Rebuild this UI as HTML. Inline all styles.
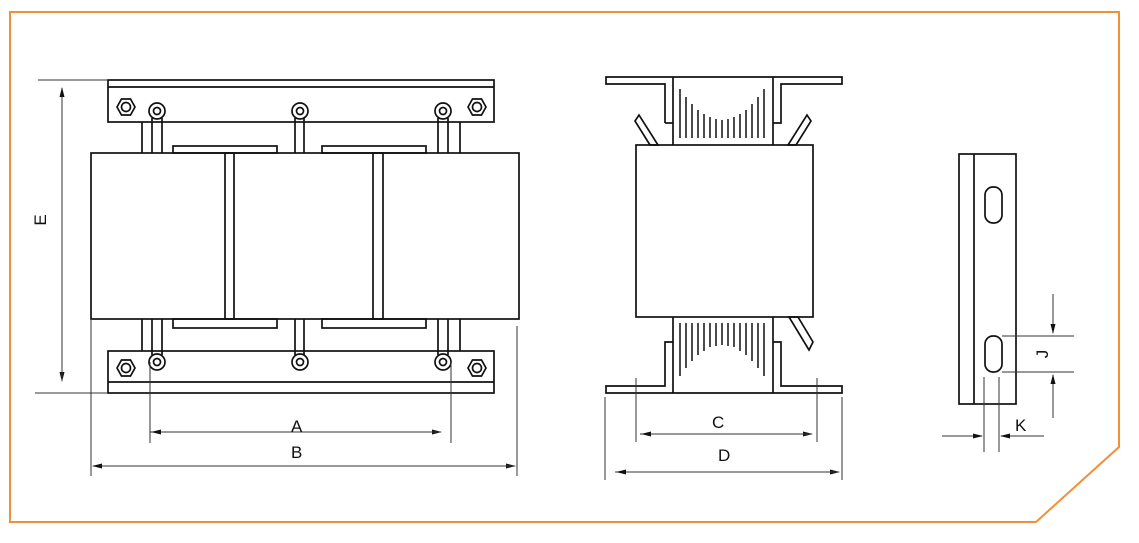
<!DOCTYPE html>
<html><head><meta charset="utf-8"><style>
html,body{margin:0;padding:0;background:#fff;}
svg{display:block;}
text{font-family:"Liberation Sans",sans-serif;font-size:17px;fill:#111;}
</style></head><body>
<svg width="1139" height="543" viewBox="0 0 1139 543" xmlns="http://www.w3.org/2000/svg">
<defs>
<marker id="ar" markerWidth="10" markerHeight="6" refX="9" refY="3" orient="auto" markerUnits="userSpaceOnUse"><path d="M0,0.5 L10,3 L0,5.5 z" fill="#111"/></marker>
</defs>
<polygon points="10,12 1119,12 1119,447 1036,522 10,522" fill="none" stroke="#f0913a" stroke-width="2"/>
<g fill="none" stroke="#111" stroke-width="1.7">
<rect x="108" y="80" width="386" height="42"/>
<line x1="108" y1="87" x2="494" y2="87"/>
<rect x="108" y="351" width="386" height="42"/>
<line x1="108" y1="382" x2="494" y2="382"/>
<rect x="91" y="153" width="428" height="166"/>
<rect x="225" y="153" width="9" height="166"/>
<rect x="373" y="153" width="10" height="166"/>
<rect x="173" y="146" width="104" height="7"/>
<rect x="322" y="146" width="104" height="7"/>
<rect x="173" y="319" width="104" height="9"/>
<rect x="322" y="319" width="104" height="9"/>
<path d="M142,122V153 M152,118V153 M162,118V153 M295,118V153 M304,118V153 M438,118V153 M448,118V153 M460,122V153"/>
<path d="M142,319V351 M152,319V355 M162,319V355 M295,319V355 M304,319V355 M438,319V355 M448,319V355 M460,319V351"/>
<circle cx="157" cy="111" r="8"/><circle cx="157" cy="111" r="3.5"/>
<circle cx="300" cy="111" r="8"/><circle cx="300" cy="111" r="3.5"/>
<circle cx="443" cy="111" r="8"/><circle cx="443" cy="111" r="3.5"/>
<circle cx="157" cy="362" r="8"/><circle cx="157" cy="362" r="3.5"/>
<circle cx="300" cy="362" r="8"/><circle cx="300" cy="362" r="3.5"/>
<circle cx="443" cy="362" r="8"/><circle cx="443" cy="362" r="3.5"/>
<polygon points="117,107 121.5,99 130.5,99 135,107 130.5,115 121.5,115"/><circle cx="126" cy="107" r="4.5"/>
<polygon points="468,107 472.5,99 481.5,99 486,107 481.5,115 472.5,115"/><circle cx="477" cy="107" r="4.5"/>
<polygon points="117,368 121.5,360 130.5,360 135,368 130.5,376 121.5,376"/><circle cx="126" cy="368" r="4.5"/>
<polygon points="468,368 472.5,360 481.5,360 486,368 481.5,376 472.5,376"/><circle cx="477" cy="368" r="4.5"/>
</g>
<g stroke="#333" stroke-width="1" fill="none">
<line x1="38" y1="80" x2="108" y2="80"/>
<line x1="35" y1="393" x2="108" y2="393"/>
<line x1="62" y1="88" x2="62" y2="381" marker-end="url(#ar)"/>
<line x1="62" y1="381" x2="62" y2="88" marker-end="url(#ar)"/>
<line x1="150" y1="362" x2="150" y2="443"/>
<line x1="451" y1="362" x2="451" y2="443"/>
<line x1="150" y1="432" x2="441" y2="432" marker-end="url(#ar)"/>
<line x1="441" y1="432" x2="152" y2="432" marker-end="url(#ar)"/>
<line x1="91" y1="319" x2="91" y2="476"/>
<line x1="517" y1="326" x2="517" y2="476"/>
<line x1="93" y1="466" x2="515" y2="466" marker-end="url(#ar)"/>
<line x1="515" y1="466" x2="93" y2="466" marker-end="url(#ar)"/>
</g>
<text x="291" y="432">A</text>
<text x="291" y="458">B</text>
<text x="0" y="0" transform="translate(46,220) rotate(-90)" text-anchor="middle">E</text>

<g fill="none" stroke="#111" stroke-width="1.7">
<polyline points="665,123 665,84 606,84 606,77 842,77 842,84 781,84 781,123 773,123"/>
<polyline points="673,123 665,123"/>
<line x1="673" y1="77" x2="673" y2="145"/>
<line x1="773" y1="77" x2="773" y2="145"/>
<rect x="636" y="145" width="177" height="172"/>
<line x1="673" y1="317" x2="673" y2="393"/>
<line x1="773" y1="317" x2="773" y2="393"/>
<polyline points="673,342 665,342 665,386 606,386 606,393 842,393 842,386 781,386 781,342 773,342"/>
<polygon points="650,145 635,121 639,115 658,145"/>
<polygon points="796,145 811,121 807,115 788,145"/>
<polygon points="789,317 798,317 813,342 809,350"/>
</g>
<g stroke="#111" stroke-width="1.5">
<path d="M680,89V138 M686,97V138 M692,104V138 M698,110V138 M704,114V138 M710,117V138 M716,119V138 M722,120V138 M728,119V138 M734,117V138 M740,114V138 M746,110V138 M752,104V138 M758,97V138 M764,89V138"/>
<path d="M680,323V376 M686,323V368 M692,323V361 M698,323V355 M704,323V351 M710,323V347 M716,323V346 M722,323V345 M728,323V346 M734,323V347 M740,323V351 M746,323V355 M752,323V361 M758,323V368 M764,323V376"/>
</g>
<g stroke="#333" stroke-width="1" fill="none">
<line x1="636" y1="378" x2="636" y2="442"/>
<line x1="817" y1="378" x2="817" y2="442"/>
<line x1="640" y1="434" x2="812" y2="434" marker-end="url(#ar)"/>
<line x1="812" y1="434" x2="642" y2="434" marker-end="url(#ar)"/>
<line x1="605" y1="397" x2="605" y2="480"/>
<line x1="842" y1="397" x2="842" y2="480"/>
<line x1="615" y1="472" x2="839" y2="472" marker-end="url(#ar)"/>
<line x1="839" y1="472" x2="617" y2="472" marker-end="url(#ar)"/>
</g>
<text x="712" y="428">C</text>
<text x="718" y="461">D</text>

<g fill="none" stroke="#111" stroke-width="1.7">
<rect x="959" y="154" width="57" height="250"/>
<line x1="974" y1="154" x2="974" y2="404"/>
<rect x="985" y="187" width="17" height="36" rx="8"/>
<rect x="985" y="336" width="17" height="36" rx="8"/>
</g>
<g stroke="#333" stroke-width="1" fill="none">
<line x1="1002" y1="336" x2="1074" y2="336"/>
<line x1="1002" y1="372" x2="1074" y2="372"/>
<line x1="1053" y1="294" x2="1053" y2="333" marker-end="url(#ar)"/>
<line x1="1053" y1="418" x2="1053" y2="375" marker-end="url(#ar)"/>
<line x1="984" y1="377" x2="984" y2="452"/>
<line x1="999" y1="377" x2="999" y2="452"/>
<line x1="942" y1="436" x2="982" y2="436" marker-end="url(#ar)"/>
<line x1="1044" y1="436" x2="1001" y2="436" marker-end="url(#ar)"/>
</g>
<text x="0" y="0" transform="translate(1048,354) rotate(-90)" text-anchor="middle">J</text>
<text x="1015" y="431">K</text>
</svg>
</body></html>
